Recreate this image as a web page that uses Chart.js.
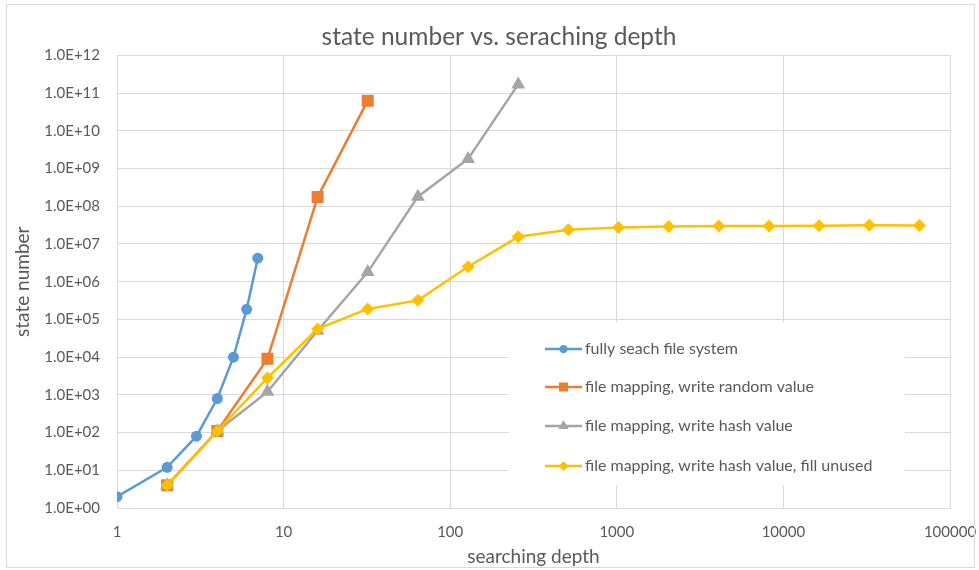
<!DOCTYPE html>
<html>
<head>
<meta charset="utf-8">
<script src="https://cdn.jsdelivr.net/npm/chart.js@4.4.1/dist/chart.umd.min.js"></script>
<style>
  html, body { margin: 0; padding: 0; background: #fff; }
  #wrap { width: 979px; height: 570px; position: relative; }
</style>
</head>
<body>
<div id="wrap"><canvas id="c" width="979" height="570"></canvas></div>
<script>
// Searching depth (x) and number of states (y) for each strategy
const fullDepth = [1, 2, 3, 4, 5, 6, 7];
const fullStates = [2, 12, 80, 800, 10000, 185000, 4200000];

const randomDepth = [2, 4, 8, 16, 32];
const randomStates = [4, 110, 9000, 1.75e8, 6.3e10];

const hashDepth = [2, 4, 8, 16, 32, 64, 128, 256];
const hashStates = [4, 110, 1200, 5e4, 1.8e6, 1.8e8, 1.8e9, 1.7e11];

const fillDepth = [2, 4, 8, 16, 32, 64, 128, 256, 512, 1024, 2048, 4096, 8192, 16384, 32768, 65536];
const fillStates = [4, 110, 2800, 5.6e4, 1.9e5, 3.2e5, 2.5e6, 1.55e7, 2.4e7, 2.75e7, 2.9e7, 3.0e7, 3.0e7, 3.05e7, 3.15e7, 3.1e7];

const seriesLabels = [
  'fully seach file system',
  'file mapping, write random value',
  'file mapping, write hash value',
  'file mapping, write hash value, fill unused'
];

const xTicks = [1, 10, 100, 1000, 10000, 100000];
const yTicks = [1e0, 1e1, 1e2, 1e3, 1e4, 1e5, 1e6, 1e7, 1e8, 1e9, 1e10, 1e11, 1e12];

const FONT = 'Lato, "Open Sans", sans-serif';
const TEXT = '#595959';
const GRID = '#d9d9d9';

function pairs(xs, ys) { return xs.map((x, i) => ({ x: x, y: ys[i] })); }

function sci(v) {
  const [m, e] = v.toExponential(1).split('e');
  const sign = e[0] === '-' ? '-' : '+';
  const digits = e.replace(/[+-]/, '').padStart(2, '0');
  return m + 'E' + sign + digits;
}

const styles = [
  { color: '#5B9BD5', pointStyle: 'circle', radius: 5.5 },
  { color: '#ED7D31', pointStyle: 'rect', radius: 8.5 },
  { color: '#A5A5A5', pointStyle: 'triangle', radius: 8 },
  { color: '#FFC000', pointStyle: 'rectRot', radius: 6.5 }
];

const dataSets = [
  pairs(fullDepth, fullStates),
  pairs(randomDepth, randomStates),
  pairs(hashDepth, hashStates),
  pairs(fillDepth, fillStates)
];

const datasets = dataSets.map((d, i) => ({
  label: seriesLabels[i],
  data: d,
  showLine: true,
  borderColor: styles[i].color,
  backgroundColor: styles[i].color,
  borderWidth: 2.5,
  pointStyle: styles[i].pointStyle,
  pointRadius: styles[i].radius,
  pointBorderWidth: 0,
  pointBackgroundColor: styles[i].color,
  order: 3 - i
}));

// Legend drawn inside the plot area on a white panel
const insideLegend = {
  id: 'insideLegend',
  beforeDatasetsDraw(chart) {
    const ctx = chart.ctx;
    ctx.save();
    ctx.fillStyle = '#ffffff';
    ctx.fillRect(509, 322, 396, 163);
    ctx.restore();
  },
  afterDatasetsDraw(chart) {
    const ctx = chart.ctx;
    const rows = [349, 387, 426, 466];
    ctx.save();
    chart.data.datasets.forEach((ds, i) => {
      const y = rows[i];
      ctx.strokeStyle = ds.borderColor;
      ctx.lineWidth = 2.5;
      ctx.beginPath();
      ctx.moveTo(545, y);
      ctx.lineTo(582, y);
      ctx.stroke();
      ctx.fillStyle = ds.borderColor;
      Chart.helpers.drawPoint(ctx, {
        pointStyle: ds.pointStyle,
        radius: ds.pointRadius * 0.75,
        rotation: 0,
        borderWidth: 0
      }, 563.5, y);
      ctx.fillStyle = TEXT;
      ctx.font = '16px ' + FONT;
      ctx.textAlign = 'left';
      ctx.textBaseline = 'middle';
      ctx.fillText(ds.label, 585, y);
    });
    ctx.restore();
  }
};

// Light frame around the whole chart
const frame = {
  id: 'frame',
  afterDraw(chart) {
    const ctx = chart.ctx;
    ctx.save();
    ctx.strokeStyle = GRID;
    ctx.lineWidth = 1;
    ctx.strokeRect(6.5, 4.5, 968, 563);
    ctx.restore();
  }
};

new Chart(document.getElementById('c'), {
  type: 'scatter',
  data: { datasets: datasets },
  plugins: [insideLegend, frame],
  options: {
    responsive: false,
    animation: false,
    devicePixelRatio: 1,
    layout: { padding: { left: 40, right: 21, top: 0, bottom: 0 } },
    plugins: {
      legend: { display: false },
      tooltip: { enabled: false },
      title: {
        display: true,
        text: 'state number vs. seraching depth',
        color: TEXT,
        font: { family: FONT, size: 24.5, weight: 'normal' },
        padding: { top: 22, bottom: 4 }
      }
    },
    scales: {
      x: {
        type: 'logarithmic',
        min: 1,
        max: 100000,
        afterBuildTicks(scale) { scale.ticks = xTicks.map(v => ({ value: v })); },
        afterFit(scale) {
          scale.height = 62;
          scale.paddingLeft = 0;
          scale.paddingRight = 29;
        },
        grid: { color: GRID, lineWidth: 1, drawTicks: false },
        border: { color: GRID, width: 1 },
        ticks: {
          color: TEXT,
          font: { family: FONT, size: 15 },
          padding: 15,
          maxRotation: 0,
          autoSkip: false,
          callback: v => String(v)
        },
        title: {
          display: true,
          text: 'searching depth',
          color: TEXT,
          font: { family: FONT, size: 19 },
          padding: { top: 0, bottom: 2 }
        }
      },
      y: {
        type: 'logarithmic',
        min: 1,
        max: 1e12,
        afterBuildTicks(scale) { scale.ticks = yTicks.map(v => ({ value: v })); },
        afterFit(scale) { scale.width = 77; },
        grid: { color: GRID, lineWidth: 1, drawTicks: false },
        border: { color: GRID, width: 1 },
        ticks: {
          color: TEXT,
          font: { family: FONT, size: 15 },
          padding: 17,
          autoSkip: false,
          callback: v => sci(v)
        },
        title: {
          display: true,
          text: 'state number',
          color: TEXT,
          font: { family: FONT, size: 19 },
          padding: { top: -29, bottom: 0 }
        }
      }
    }
  }
});
</script>
</body>
</html>
